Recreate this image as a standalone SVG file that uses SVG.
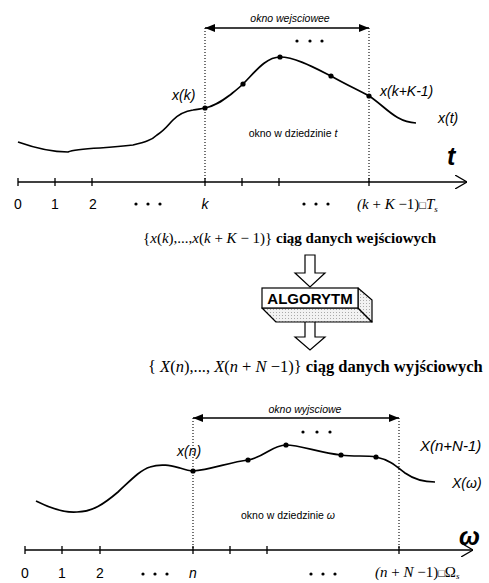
<svg xmlns="http://www.w3.org/2000/svg" width="489" height="583" viewBox="0 0 489 583">
<defs>
<style>
.ln{fill:none;stroke:#000;stroke-width:1.3}
.crv{fill:none;stroke:#000;stroke-width:1.7}
.dot{fill:none;stroke:#000;stroke-width:1.1;stroke-dasharray:1 2}
.sans{font-family:"Liberation Sans",Arial,sans-serif;fill:#000}
.it{font-style:italic}
.ser{font-family:"Liberation Serif","Times New Roman",serif;fill:#000}
.pt{fill:#000}
.blk{fill:#fff;stroke:#000;stroke-width:1.2}
</style>
<marker id="fh" viewBox="0 0 10 8" refX="10" refY="4" markerWidth="10" markerHeight="8" markerUnits="userSpaceOnUse" orient="auto-start-reverse">
<path d="M0,0 L10,4 L0,8 Z" fill="#000"/>
</marker>
<marker id="oh" viewBox="0 0 12 14" refX="12" refY="7" markerWidth="12" markerHeight="14" markerUnits="userSpaceOnUse" orient="auto">
<path d="M0,0 L12,7 L0,14" fill="none" stroke="#000" stroke-width="1.3"/>
</marker>
<pattern id="stip" width="3" height="3" patternUnits="userSpaceOnUse">
<rect width="3" height="3" fill="#f2f2f2"/>
<rect x="0" y="0" width="1" height="1" fill="#aaa"/>
</pattern>
</defs>

<!-- TOP: time domain -->
<g id="top-window">
<text class="sans it" x="290" y="22" font-size="10.5" text-anchor="middle">okno wejsciowee</text>
<line class="ln" x1="205" y1="28" x2="369" y2="28" marker-start="url(#fh)" marker-end="url(#fh)"/>
<line class="dot" x1="205" y1="28" x2="205" y2="182"/>
<line class="dot" x1="369" y1="28" x2="369" y2="182"/>
<circle class="pt" cx="297" cy="41" r="1.6"/>
<circle class="pt" cx="310" cy="41" r="1.6"/>
<circle class="pt" cx="322" cy="41" r="1.6"/>
</g>
<g id="top-signal">
<path class="crv" d="M18,142 C35,148 55,152 68,152 C72,150 80,149 100,148 C115,147 125,146 133,145 C145,142 152,140 157,135 C165,130 168,125 173,120 C180,113 186,111 193,110 C198,109 201,109 205,108 C215,106 222,101 230,95 C235,91 239,88 243,84 C255,72 266,57 280,57 C295,57 315,68 331,76 C345,84 358,90 369,96 C385,106 395,122 416,123"/>
<circle class="pt" cx="205" cy="108" r="2.6"/>
<circle class="pt" cx="243" cy="84" r="2.6"/>
<circle class="pt" cx="280" cy="57" r="2.6"/>
<circle class="pt" cx="331" cy="76" r="2.6"/>
<circle class="pt" cx="369" cy="96" r="2.6"/>
<text class="sans it" x="172" y="100" font-size="14">x(k)</text>
<text class="sans it" x="380" y="96" font-size="14">x(k+K-1)</text>
<text class="sans it" x="438" y="123" font-size="14">x(t)</text>
<text class="sans" x="293" y="137" font-size="10.5" text-anchor="middle">okno w dziedzinie <tspan class="it">t</tspan></text>
<text class="sans it" x="447" y="165" font-size="25" font-weight="bold">t</text>
</g>
<g id="top-axis">
<line class="ln" x1="18" y1="182" x2="467" y2="182" marker-end="url(#oh)"/>
<path class="ln" d="M18,178V186 M55,178V186 M92,178V186 M205,178V186 M242,178V186 M279,178V186 M369,178V186"/>
<g class="sans" font-size="14">
<text x="18" y="209" text-anchor="middle">0</text>
<text x="55" y="209" text-anchor="middle">1</text>
<text x="93" y="209" text-anchor="middle">2</text>
<text class="it" x="205" y="209" text-anchor="middle">k</text>
</g>
<g class="pt">
<circle cx="136" cy="204" r="1.6"/><circle cx="148" cy="204" r="1.6"/><circle cx="160" cy="204" r="1.6"/>
<circle cx="304" cy="204" r="1.6"/><circle cx="316" cy="204" r="1.6"/><circle cx="328" cy="204" r="1.6"/>
</g>
<text class="ser" x="357" y="209" font-size="15"><tspan font-style="italic">(k</tspan> + <tspan font-style="italic">K</tspan> −1)<tspan font-size="11">□</tspan><tspan font-style="italic">T</tspan><tspan font-size="9" dy="3" font-style="italic">s</tspan></text>
</g>
<g id="input-sequence">
<text class="ser" x="143" y="243" font-size="15">{<tspan font-style="italic">x</tspan>(<tspan font-style="italic">k</tspan>),...,<tspan font-style="italic">x</tspan>(<tspan font-style="italic">k</tspan> + <tspan font-style="italic">K</tspan> − 1)} <tspan font-weight="bold">ciąg  danych wejściowych</tspan></text>
</g>

<!-- ALGORITHM -->
<g id="connectors">
<path class="blk" d="M305,255 H315 V273 H325 L310,287 L295,273 H305 Z"/>
<path class="blk" d="M305,321 H315 V337 H325 L310,350 L295,337 H305 Z"/>
</g>
<g id="algorithm">
<path d="M262,308 H358 L372,322 H276 Z" fill="url(#stip)" stroke="#000" stroke-width="1.2" stroke-linejoin="round"/>
<path d="M358,288 L372,300 V322 L358,308 Z" fill="url(#stip)" stroke="#000" stroke-width="1.2" stroke-linejoin="round"/>
<rect x="262" y="288" width="96" height="20" fill="#fff" stroke="#000" stroke-width="1.2"/>
<text class="sans" x="310" y="304" font-size="15" font-weight="bold" text-anchor="middle">ALGORYTM</text>
</g>

<g id="output-sequence">
<text class="ser" x="148" y="372" font-size="16.5">{ <tspan font-style="italic">X</tspan>(<tspan font-style="italic">n</tspan>),..., <tspan font-style="italic">X</tspan>(<tspan font-style="italic">n</tspan> + <tspan font-style="italic">N</tspan> −1)} <tspan font-weight="bold">ciąg  danych wyjściowych</tspan></text>
</g>

<!-- BOTTOM: frequency domain -->
<g id="bottom-window">
<text class="sans it" x="305" y="413" font-size="10.5" text-anchor="middle">okno wyjsciowe</text>
<line class="ln" x1="193" y1="418" x2="399" y2="418" marker-start="url(#fh)" marker-end="url(#fh)"/>
<line class="dot" x1="193" y1="418" x2="193" y2="550"/>
<line class="dot" x1="399" y1="418" x2="399" y2="550"/>
<circle class="pt" cx="303" cy="432" r="1.6"/>
<circle class="pt" cx="317" cy="432" r="1.6"/>
<circle class="pt" cx="330" cy="432" r="1.6"/>
</g>
<g id="bottom-signal">
<path class="crv" d="M36,501 C50,508 65,513 77,512 C92,512 104,504 118,492 C130,481 140,470 150,467 C162,463 172,466 180,468 C186,470 189,471 193,471 C210,470 230,462 248,460 C265,457 272,445 286,445 C300,445 320,453 341,455 C355,457 365,455 376,457 C390,460 396,466 405,473 C415,480 425,482 435,482"/>
<circle class="pt" cx="193" cy="471" r="2.6"/>
<circle class="pt" cx="248" cy="460" r="2.6"/>
<circle class="pt" cx="286" cy="445" r="2.6"/>
<circle class="pt" cx="341" cy="455" r="2.6"/>
<circle class="pt" cx="376" cy="457" r="2.6"/>
<text class="sans it" x="177" y="456" font-size="14">x(n)</text>
<text class="sans it" x="420" y="451" font-size="15">X(n+N-1)</text>
<text class="sans it" x="452" y="488" font-size="14">X(ω)</text>
<text class="sans" x="288" y="519" font-size="10.5" text-anchor="middle">okno w dziedzinie <tspan class="it">ω</tspan></text>
<text class="sans it" x="459" y="545" font-size="25" font-weight="bold">ω</text>
</g>
<g id="bottom-axis">
<line class="ln" x1="25" y1="550" x2="473" y2="550" marker-end="url(#oh)"/>
<path class="ln" d="M25,546V554 M62,546V554 M100,546V554 M193,546V554 M230,546V554 M267,546V554 M399,546V554"/>
<g class="sans" font-size="14">
<text x="25" y="578" text-anchor="middle">0</text>
<text x="62" y="578" text-anchor="middle">1</text>
<text x="100" y="578" text-anchor="middle">2</text>
<text class="it" x="193" y="578" text-anchor="middle">n</text>
</g>
<g class="pt">
<circle cx="143" cy="574" r="1.6"/><circle cx="155" cy="574" r="1.6"/><circle cx="167" cy="574" r="1.6"/>
<circle cx="311" cy="574" r="1.6"/><circle cx="323" cy="574" r="1.6"/><circle cx="335" cy="574" r="1.6"/>
</g>
<text class="ser" x="375" y="577" font-size="15"><tspan font-style="italic">(n</tspan> + <tspan font-style="italic">N</tspan> −1)<tspan font-size="11">□</tspan>Ω<tspan font-size="9" dy="2" font-style="italic">s</tspan></text>
</g>
</svg>
